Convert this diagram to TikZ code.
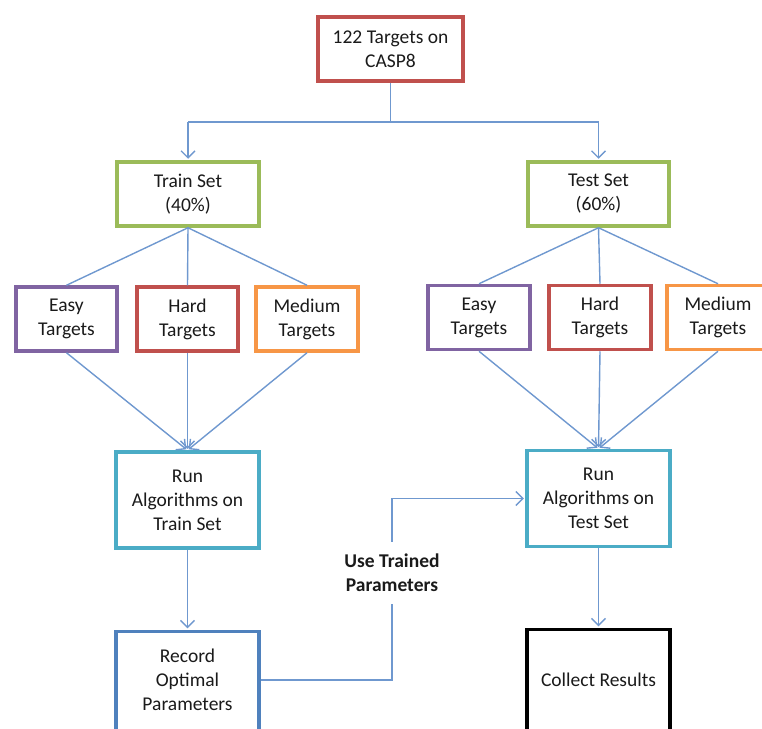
\documentclass[tikz,border=0pt]{standalone}
\usepackage{fontspec}
\setmainfont{Carlito}
\usetikzlibrary{arrows.meta}
\definecolor{cred}{HTML}{C0504D}
\definecolor{cgreen}{HTML}{9BBB59}
\definecolor{cpurple}{HTML}{8064A2}
\definecolor{corange}{HTML}{F79646}
\definecolor{cteal}{HTML}{4BACC6}
\definecolor{cblue}{HTML}{4F81BD}
\definecolor{cline}{HTML}{6F98CF}
\definecolor{ctext}{HTML}{1A1A1A}
\begin{document}
\begin{tikzpicture}[x=1pt,y=-1pt,
  box/.style={draw, line width=3.5pt, fill=white, align=center, text=ctext,
    font=\fontsize{19.5}{24}\selectfont, inner sep=0pt},
  small/.style={box, minimum width=101pt, minimum height=64pt},
  conn/.style={draw=cline, line width=1.4pt},
  arr/.style={conn, -{Straight Barb[length=7pt,width=14pt,line width=1.4pt]}, shorten >=1.5pt}]
\useasboundingbox (0,0) rectangle (762,728);
\clip (0,0) rectangle (762,728);
% nodes
\node[box, draw=cred, minimum width=145pt, minimum height=64pt] (top) at (390.5,49) {122 Targets on\\CASP8};
\node[box, draw=cgreen, minimum width=142pt, minimum height=64pt] (train) at (188,194) {Train Set\\(40\%)};
\node[box, draw=cgreen, minimum width=141pt, minimum height=64pt] (test) at (598.5,194) {Test Set\\(60\%)};
\node[small, draw=cpurple] (easyL) at (66.5,319) {Easy\\Targets};
\node[small, draw=cred] (hardL) at (187.5,319) {Hard\\Targets};
\node[small, draw=corange, minimum width=102pt] (medL) at (307,319) {Medium\\Targets};
\node[small, draw=cpurple, minimum width=102pt] (easyR) at (479,317.5) {Easy\\Targets};
\node[small, draw=cred, minimum width=102pt] (hardR) at (600,317.5) {Hard\\Targets};
\node[small, draw=corange, minimum width=102pt] (medR) at (718,317.5) {Medium\\Targets};
\node[box, draw=cteal, minimum width=143pt, minimum height=96pt] (runL) at (187.5,500) {Run\\Algorithms on\\Train Set};
\node[box, draw=cteal, minimum width=143pt, minimum height=96pt] (runR) at (598.5,498.5) {Run\\Algorithms on\\Test Set};
\node[box, draw=cblue, minimum width=143pt, minimum height=110pt, text depth=14.5pt] (rec) at (187.5,686.5) {Record\\Optimal\\Parameters};
\node[box, draw=black, minimum width=143pt, minimum height=110pt, text depth=10pt] (col) at (598.5,684.5) {Collect Results};
\node[align=center, text=ctext, font=\fontsize{19.5}{24}\bfseries\selectfont, inner xsep=2pt, inner ysep=12pt] (lbl) at (392,573) {Use Trained\\Parameters};
% connectors
\coordinate (jl) at (188,122);
\coordinate (jr) at (598.5,122);
\draw[conn] (top.south) -- (top.south |- jl);
\draw[conn] (jl) -- (jr);
\draw[arr] (jl) -- (train.north);
\draw[arr] (jr) -- (test.north);
\draw[conn] (train.south) -- (easyL.north);
\draw[conn] (train.south) -- (hardL.north);
\draw[conn] (train.south) -- (medL.north);
\draw[conn] (test.south) -- (easyR.north);
\draw[conn] (test.south) -- (hardR.north);
\draw[conn] (test.south) -- (medR.north);
\draw[arr] (easyL.south) -- (runL.north);
\draw[arr] (hardL.south) -- (runL.north);
\draw[arr] (medL.south) -- (runL.north);
\draw[arr] (easyR.south) -- (runR.north);
\draw[arr] (hardR.south) -- (runR.north);
\draw[arr] (medR.south) -- (runR.north);
\draw[arr] (runL.south) -- (rec.north);
\draw[arr] (runR.south) -- (col.north);
\draw[conn] (rec.east |- 0,680) -| (lbl.south);
\draw[arr] (lbl.north) |- (runR.west);
\end{tikzpicture}
\end{document}
